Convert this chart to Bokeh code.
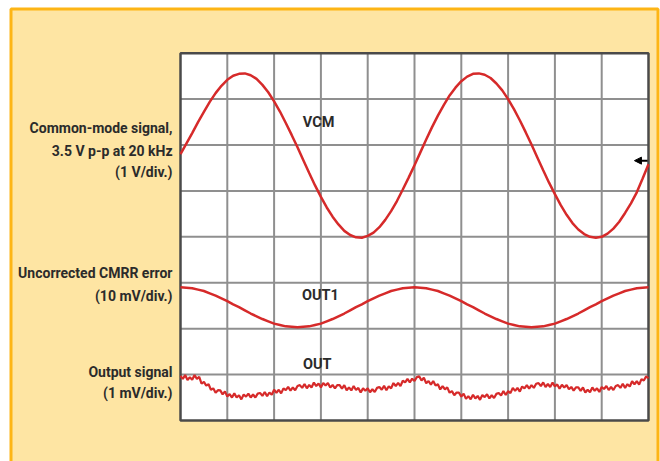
import numpy as np
from bokeh.plotting import figure
from bokeh.models import Range1d, Label, Arrow, NormalHead
from bokeh.embed import file_html
from bokeh.resources import INLINE

# ---- data (screen divisions; 10 horizontal x 8 vertical) ----
vcm_div = [5.80, 6.03, 6.26, 6.50, 6.72, 6.94, 7.13, 7.29, 7.42, 7.51,
           7.55, 7.56, 7.52, 7.44, 7.31, 7.15, 6.95, 6.73, 6.48, 6.22,
           5.95, 5.67, 5.39, 5.12, 4.87, 4.64, 4.44, 4.27, 4.13, 4.04,
           3.99, 3.98, 4.02, 4.09, 4.21, 4.37, 4.56, 4.78, 5.03, 5.29,
           5.56, 5.84, 6.12, 6.39, 6.64, 6.87, 7.08, 7.25, 7.39, 7.49,
           7.55, 7.56, 7.53, 7.46, 7.34, 7.19, 7.00, 6.78, 6.54, 6.28,
           6.01, 5.73, 5.45, 5.18, 4.93, 4.69, 4.48, 4.30, 4.16, 4.06,
           4.00, 3.98, 4.00, 4.07, 4.18, 4.33, 4.52, 4.73, 4.97, 5.27,
           5.58]

out1_div = [2.90, 2.89, 2.88, 2.85, 2.82, 2.77, 2.72, 2.66, 2.60, 2.53,
            2.47, 2.40, 2.33, 2.27, 2.21, 2.16, 2.11, 2.08, 2.05, 2.04,
            2.03, 2.04, 2.05, 2.08, 2.11, 2.16, 2.21, 2.27, 2.33, 2.40,
            2.47, 2.53, 2.60, 2.66, 2.72, 2.77, 2.82, 2.85, 2.88, 2.89,
            2.90, 2.89, 2.88, 2.85, 2.82, 2.77, 2.72, 2.66, 2.60, 2.53,
            2.47, 2.40, 2.33, 2.27, 2.21, 2.16, 2.11, 2.08, 2.05, 2.04,
            2.03, 2.04, 2.05, 2.08, 2.11, 2.16, 2.21, 2.27, 2.33, 2.40,
            2.47, 2.53, 2.60, 2.66, 2.72, 2.77, 2.82, 2.85, 2.88, 2.89,
            2.90]

out_div = [0.97, 0.905, 0.99, 0.88, 0.94, 0.885, 0.99, 0.905, 0.95, 0.80,
           0.84, 0.76, 0.79, 0.67, 0.70, 0.605, 0.66, 0.655, 0.57, 0.635,
           0.52, 0.575, 0.50, 0.59, 0.50, 0.55, 0.46, 0.565, 0.52, 0.585,
           0.50, 0.565, 0.50, 0.585, 0.60, 0.535, 0.62, 0.53, 0.61, 0.56,
           0.67, 0.605, 0.67, 0.59, 0.70, 0.66, 0.73, 0.65, 0.72, 0.66,
           0.75, 0.77, 0.71, 0.795, 0.70, 0.775, 0.72, 0.825, 0.75, 0.805,
           0.72, 0.815, 0.76, 0.815, 0.72, 0.775, 0.70, 0.77, 0.77, 0.695,
           0.77, 0.66, 0.72, 0.655, 0.75, 0.665, 0.71, 0.61, 0.70, 0.645,
           0.70, 0.615, 0.68, 0.62, 0.71, 0.73, 0.67, 0.755, 0.66, 0.745,
           0.70, 0.815, 0.75, 0.82, 0.75, 0.865, 0.83, 0.905, 0.83, 0.91,
           0.86, 0.945, 0.96, 0.87, 0.93, 0.81, 0.86, 0.78, 0.86, 0.76,
           0.79, 0.675, 0.75, 0.68, 0.72, 0.605, 0.64, 0.55, 0.61, 0.605,
           0.52, 0.585, 0.47, 0.53, 0.46, 0.56, 0.48, 0.535, 0.45, 0.555,
           0.51, 0.57, 0.48, 0.55, 0.49, 0.58, 0.60, 0.545, 0.64, 0.555,
           0.64, 0.595, 0.71, 0.645, 0.71, 0.63, 0.74, 0.70, 0.77, 0.695,
           0.77, 0.71, 0.80, 0.815, 0.75, 0.83, 0.73, 0.795, 0.73, 0.825,
           0.74, 0.785, 0.69, 0.78, 0.72, 0.775, 0.68, 0.73, 0.65, 0.72,
           0.72, 0.645, 0.72, 0.61, 0.67, 0.615, 0.72, 0.645, 0.70, 0.62,
           0.73, 0.685, 0.75, 0.665, 0.73, 0.665, 0.75, 0.77, 0.71, 0.80,
           0.71, 0.79, 0.74, 0.855, 0.79, 0.855, 0.78, 0.90, 0.87, 0.96,
           0.92]

left_labels = ["Common-mode signal,", "3.5 V p-p at 20 kHz", "(1 V/div.)",
               "Uncorrected CMRR error", "(10 mV/div.)",
               "Output signal", "(1 mV/div.)"]
left_label_y = [6.37, 5.88, 5.41, 3.21, 2.72, 1.05, 0.59]
trace_labels = ["VCM", "OUT1", "OUT"]
trace_label_x = [2.95, 2.99, 2.92]
trace_label_y = [6.50, 2.72, 1.22]
marker_y = 5.66
n_xdiv, n_ydiv = 10, 8

# ---- layout (pixels of the 660x461 canvas mapped onto divisions) ----
W, H = 660, 461
PX_X0, PX_PER_XDIV = 180.0, 46.8      # frame left edge, px per horizontal div
PX_Y8, PX_PER_YDIV = 52.7, 45.91      # frame top edge, px per vertical div

def dx(px):
    return (px - PX_X0) / PX_PER_XDIV

def dy(px):
    return n_ydiv - (px - PX_Y8) / PX_PER_YDIV

RED = "#d62a2a"
TXT = "#2b2b2b"
FONT = "Roboto"
PALE = "#fee5a3"
ORANGE = "#fdb515"

p = figure(width=W, height=H, x_range=Range1d(dx(0), dx(W)), y_range=Range1d(dy(H), dy(0)),
           x_axis_type=None, y_axis_type=None, toolbar_location=None,
           output_backend="svg", min_border=0)
p.outline_line_color = None
p.background_fill_color = "white"
p.border_fill_color = "white"
p.grid.visible = False

# panel with orange frame
p.quad(left=dx(10.5), right=dx(657.5), top=dy(8.5), bottom=dy(H + 20),
       fill_color=PALE, line_color=ORANGE, line_width=3)
# white screen area
p.quad(left=0, right=n_xdiv, top=n_ydiv, bottom=0, fill_color="white", line_color=None)
# graticule
gx = np.arange(1, n_xdiv)
gy = np.arange(1, n_ydiv)
p.segment(x0=gx, y0=0, x1=gx, y1=n_ydiv, line_color="#8f8f8f", line_width=2)
p.segment(x0=0, y0=gy, x1=n_xdiv, y1=gy, line_color="#8f8f8f", line_width=2)
p.quad(left=0, right=n_xdiv, top=n_ydiv, bottom=0, fill_color=None,
       line_color="#4a4a4a", line_width=2.5)

# traces
p.line(np.linspace(0, n_xdiv, len(vcm_div)), vcm_div, line_color=RED, line_width=2.5)
p.line(np.linspace(0, n_xdiv, len(out1_div)), out1_div, line_color=RED, line_width=2.5)
p.line(np.linspace(0, n_xdiv, len(out_div)), out_div, line_color=RED, line_width=2.2)

p.add_layout(Arrow(x_start=9.98, y_start=marker_y, x_end=9.70, y_end=marker_y,
                   line_color="black", line_width=2,
                   end=NormalHead(size=7, fill_color="black", line_color="black")))

for txt, y in zip(left_labels, left_label_y):
    p.add_layout(Label(x=dx(172), y=y, text=txt, text_align="right", text_baseline="middle",
                       text_font=FONT, text_font_style="bold", text_font_size="14px",
                       text_color=TXT))
for txt, x, y in zip(trace_labels, trace_label_x, trace_label_y):
    p.add_layout(Label(x=x, y=y, text=txt, text_align="center", text_baseline="middle",
                       text_font=FONT, text_font_style="bold", text_font_size="14.5px",
                       text_color=TXT))

open("out.html", "w").write(file_html(p, INLINE))
